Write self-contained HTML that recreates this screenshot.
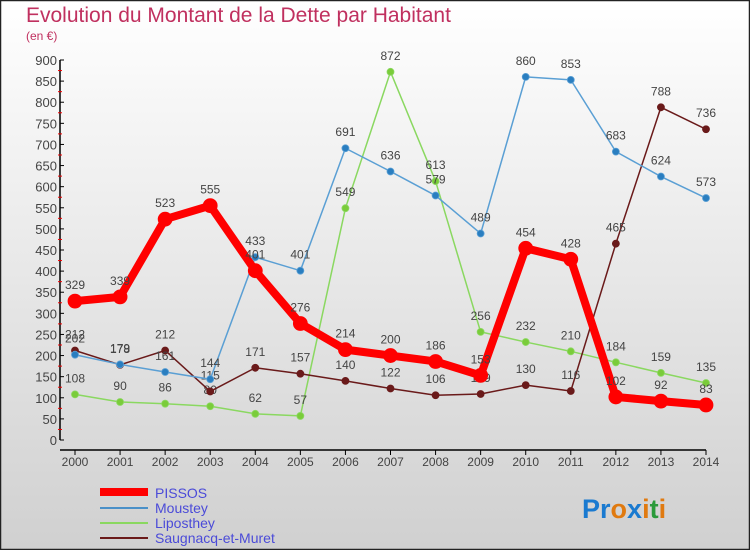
<!DOCTYPE html>
<html><head><meta charset="utf-8">
<style>
body{margin:0;background:#fff}
#wrap{width:750px;height:550px;position:relative;overflow:hidden}
text{font-family:"Liberation Sans",sans-serif}
</style></head>
<body>
<div id="wrap">
<svg id="chart" width="750" height="550" xmlns="http://www.w3.org/2000/svg">
<defs>
<linearGradient id="bg" x1="0" y1="0" x2="0" y2="1">
<stop offset="0" stop-color="#ffffff"/><stop offset="1" stop-color="#d0d0d0"/>
</linearGradient>
</defs>
<rect x="0.5" y="0.5" width="749" height="549" fill="url(#bg)" stroke="#222" stroke-width="1.5"/>
<text x="26" y="22" font-size="21" fill="#c0305f">Evolution du Montant de la Dette par Habitant</text>
<text x="26" y="40" font-size="12" fill="#c0305f">(en €)</text>
<g id="axes"></g>
<g id="series"></g>
<g id="legend">
<line x1="100" y1="492" x2="148" y2="492" stroke="#ff0000" stroke-width="8"/>
<text x="155" y="498" font-size="14" fill="#4b4bd8">PISSOS</text>
<line x1="100" y1="508" x2="148" y2="508" stroke="#4a90c8" stroke-width="2"/>
<text x="155" y="513" font-size="14" fill="#4b4bd8">Moustey</text>
<line x1="100" y1="523" x2="148" y2="523" stroke="#8ad860" stroke-width="2"/>
<text x="155" y="528" font-size="14" fill="#4b4bd8">Liposthey</text>
<line x1="100" y1="538" x2="148" y2="538" stroke="#6a1a1a" stroke-width="2"/>
<text x="155" y="543" font-size="14" fill="#4b4bd8">Saugnacq-et-Muret</text>
</g>
<text x="582" y="518" font-size="27" font-weight="bold"><tspan fill="#1a7ad0">Pr</tspan><tspan fill="#e07a10">o</tspan><tspan fill="#1a7ad0">x</tspan><tspan fill="#e07a10">i</tspan><tspan fill="#2a9a3a">t</tspan><tspan fill="#e07a10">i</tspan></text>
</svg>
</div>
<script>
const years = [2000,2001,2002,2003,2004,2005,2006,2007,2008,2009,2010,2011,2012,2013,2014];
const pissos = [329,339,523,555,401,276,214,200,186,153,454,428,102,92,83];
const moustey = [202,179,161,144,433,401,691,636,579,489,860,853,683,624,573];
const liposthey = [108,90,86,80,62,57,549,872,613,256,232,210,184,159,135];
const saugnacq = [212,178,212,115,171,157,140,122,106,109,130,116,465,788,736];
const yTicks = [0,50,100,150,200,250,300,350,400,450,500,550,600,650,700,750,800,850,900];

const NS = "http://www.w3.org/2000/svg";
const X0 = 75, X1 = 706, Y0 = 440, Y1 = 60, YMAX = 900;
function xs(i){ return X0 + (X1 - X0) * i / (years.length - 1); }
function ys(v){ return Y0 - (Y0 - Y1) * v / YMAX; }
function mk(tag, attrs, parent){
  const e = document.createElementNS(NS, tag);
  for (const k in attrs) e.setAttribute(k, attrs[k]);
  parent.appendChild(e);
  return e;
}
const axes = document.getElementById('axes');
let yl = mk('line',{x1:60,y1:Y0,x2:60,y2:Y1,stroke:'#000','stroke-width':1.5},axes);


let xl = mk('line',{x1:60,y1:Y0+10,x2:X1,y2:Y0+10,stroke:'#000','stroke-width':1.5},axes);


yTicks.forEach((t) => {
  const y = ys(t);
  mk('line',{x1:60,y1:y,x2:64,y2:y,stroke:'#000'},axes);
  if (t < YMAX) mk('line',{x1:58,y1:ys(t+25),x2:62,y2:ys(t+25),stroke:'#e00'},axes);
  const tx = mk('text',{x:57,y:y+5,'text-anchor':'end','font-size':13,fill:'#444'},axes);
  tx.textContent = t;
  
  
});
years.forEach((yr, i) => {
  const x = xs(i);
  mk('line',{x1:x,y1:Y0+10,x2:x,y2:Y0+15,stroke:'#000'},axes);
  const tx = mk('text',{x:x,y:Y0+26,'text-anchor':'middle','font-size':12,fill:'#444'},axes);
  tx.textContent = yr;
  
  
});
const series = document.getElementById('series');
function draw(vals, color, w, r, name, dotColor){
  const g = mk('g',{},series);
  
  
  const pts = vals.map((v,i) => xs(i) + ',' + ys(v)).join(' ');
  const pl = mk('polyline',{points:pts,fill:'none',stroke:color,'stroke-width':w,'stroke-linejoin':'round'},g);
  
  
  vals.forEach((v,i) => {
    const c = mk('circle',{cx:xs(i),cy:ys(v),r:r,fill:dotColor,stroke:color,'stroke-width':0.8},g);
    
    
    const t = mk('text',{x:xs(i),y:ys(v)-12,'text-anchor':'middle','font-size':12,fill:'#444'},g);
    t.textContent = v;
    
    
  });
}
draw(liposthey, '#8ad860', 1.5, 3.5, 'liposthey', '#7acc3a');
draw(saugnacq, '#6a1a1a', 1.5, 3.5, 'saugnacq', '#6a1a1a');
draw(moustey, '#5a9fd4', 1.5, 3.5, 'moustey', '#2a7ec0');
draw(pissos, '#ff0000', 8, 7, 'pissos', '#ff0000');
</script>
</body></html>
